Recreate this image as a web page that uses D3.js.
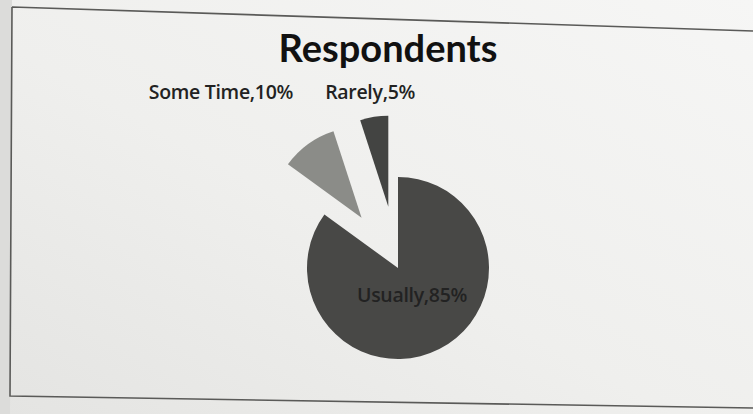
<!DOCTYPE html>
<html>
<head>
<meta charset="utf-8">
<script src="https://cdn.jsdelivr.net/npm/d3@7"></script>
<style>
  html, body { margin: 0; padding: 0; background: #e9e9e7; }
  svg { display: block; }
  text { font-family: "Open Sans", "Noto Sans", sans-serif; }
</style>
</head>
<body>
<script>
// data
var categories = ["Usually", "Some Time", "Rarely"];
var values = [85, 10, 5];
var exploded = [false, true, true];
var colors = ["#484846", "#8b8c88", "#434442"];

var width = 753, height = 414,
    cx = 398, cy = 268,
    radius = 91,
    explode = 62;

var data = categories.map(function(c, i) {
  return {name: c, value: values[i], exploded: exploded[i], color: colors[i]};
});

var svg = d3.select("body").append("svg")
    .attr("width", width)
    .attr("height", height);

// paper background, slightly uneven light
var defs = svg.append("defs");
var grad = defs.append("linearGradient")
    .attr("id", "paper")
    .attr("x1", "0").attr("y1", "1").attr("x2", "1").attr("y2", "0");
grad.append("stop").attr("offset", "0").attr("stop-color", "#e4e4e2");
grad.append("stop").attr("offset", "0.45").attr("stop-color", "#efefed");
grad.append("stop").attr("offset", "1").attr("stop-color", "#f6f6f5");

svg.append("rect")
    .attr("width", width).attr("height", height)
    .attr("fill", "url(#paper)");

// strip outside the frame on the left is a bit darker
svg.append("path")
    .attr("d", "M0,0 L12,0 L10,414 L0,414 Z")
    .attr("fill", "#dcdcda");

// chart frame (photographed at a slight angle)
svg.append("path")
    .attr("d", "M12,7 L753,31 M12,7 L10,396 L753,408")
    .attr("fill", "none")
    .attr("stroke", "#5a5a58")
    .attr("stroke-width", 1.6);

// title
svg.append("text")
    .attr("x", 388)
    .attr("y", 62)
    .attr("text-anchor", "middle")
    .style("font-family", "Lato, 'Open Sans', sans-serif")
    .attr("font-size", 38)
    .attr("font-weight", "bold")
    .attr("fill", "#111")
    .text("Respondents");

var pie = d3.pie()
    .sort(null)
    .value(function(d) { return d.value; });

var arc = d3.arc()
    .outerRadius(radius)
    .innerRadius(0);

// label arcs: inside for the big slice, outside for exploded ones
var innerLabelArc = d3.arc()
    .outerRadius(radius * 0.68)
    .innerRadius(0);

var outerLabelArc = d3.arc()
    .outerRadius(radius * 1.28)
    .innerRadius(radius * 1.28);

function offset(d) {
  if (!d.data.exploded) return [0, 0];
  var a = (d.startAngle + d.endAngle) / 2;
  return [Math.sin(a) * explode, -Math.cos(a) * explode];
}

var arcs = pie(data);

// outside labels sit on one row, at the height of the highest one
var labelRowY = d3.min(arcs.filter(function(d) { return d.data.exploded; }), function(d) {
  return offset(d)[1] + outerLabelArc.centroid(d)[1];
});

var slices = svg.append("g")
    .attr("transform", "translate(" + cx + "," + cy + ")")
  .selectAll(".arc")
    .data(arcs)
  .enter().append("g")
    .attr("class", "arc")
    .attr("transform", function(d) { return "translate(" + offset(d) + ")"; });

slices.append("path")
    .attr("d", arc)
    .style("fill", function(d) { return d.data.color; });

slices.append("text")
    .attr("transform", function(d) {
      if (!d.data.exploded) return "translate(" + innerLabelArc.centroid(d) + ")";
      var c = outerLabelArc.centroid(d);
      return "translate(" + c[0] + "," + (labelRowY - offset(d)[1]) + ")";
    })
    .attr("text-anchor", function(d) {
      if (!d.data.exploded) return "middle";
      var c = outerLabelArc.centroid(d);
      return Math.abs(c[0]) < 30 ? "middle" : (c[0] < 0 ? "end" : "start");
    })
    .attr("dy", ".35em")
    .attr("font-size", 19.5)
    .attr("font-weight", 600)
    .attr("letter-spacing", -0.3)
    .attr("fill", "#222")
    .text(function(d) { return d.data.name + "," + d.data.value + "%"; });
</script>
</body>
</html>
